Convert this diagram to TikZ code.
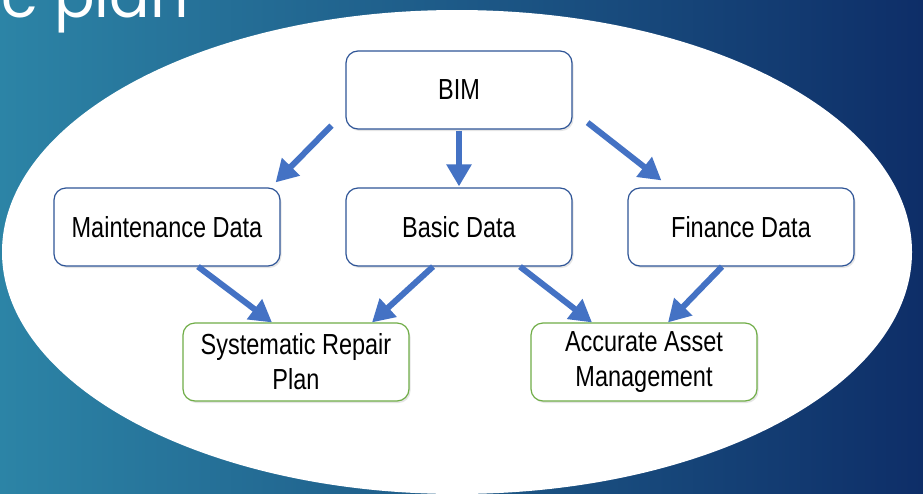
\documentclass[tikz,border=0pt]{standalone}
\usepackage{fontspec}
\setmainfont{Liberation Sans}
\newfontfamily\boxfont[FakeStretch=0.81]{Liberation Sans}
\newfontfamily\titlefont{Poppins}
\usepackage{tikz}
\usetikzlibrary{arrows.meta,shadows}
\definecolor{bgleft}{RGB}{44,132,166}
\definecolor{bgright}{RGB}{14,46,104}
\definecolor{boxline}{RGB}{47,85,151}
\definecolor{goalgreen}{RGB}{112,173,71}
\definecolor{arrowblue}{RGB}{68,114,196}

\begin{document}
\begin{tikzpicture}
	[
		x=1pt, y=-1pt,
		box/.style = {draw=boxline, line width=1.2pt, fill=white, rounded corners=12pt,
			minimum width=226pt, minimum height=78pt, align=center,
			font=\boxfont\fontsize{29}{35}\selectfont,
			drop shadow={opacity=0.2, shadow xshift=1.5pt, shadow yshift=-2pt}},
		goal/.style = {box, draw=goalgreen},
		link/.style = {draw=arrowblue, fill=arrowblue, line width=6pt, -{Triangle[length=22pt,width=24pt]}},
	]

  \useasboundingbox (0,0) rectangle (923,493);
  \fill[left color=bgleft, right color=bgright] (0,0) rectangle (923,493);
  \node[anchor=base east, text=white, font=\titlefont\fontsize{60}{60}\selectfont] (title) at (192,17) {c plan};
  \fill[white] (457,252) ellipse [x radius=455, y radius=242];

  % top and middle row
  \node[box] (BIM) at (459,90) {BIM};
  \node[box] (maint) at (167,227) {Maintenance Data};
  \node[box] (basic) at (459,227) {Basic Data};
  \node[box] (finance) at (741,227) {Finance Data};

  % results
  \node[goal] (repair) at (296,362) {Systematic Repair\\Plan};
  \node[goal] (asset) at (644,362) {Accurate Asset\\Management};

  \draw[link] ([xshift=-14pt,yshift=4pt]BIM.south west) -- ([xshift=-5pt,yshift=5pt]maint.north east);
  \draw[link] ([yshift=-1pt]BIM.south) -- ([yshift=1pt]basic.north);
  \draw[link] ([xshift=15pt,yshift=7pt]BIM.south east) -- ([xshift=34pt,yshift=7pt]finance.north west);
  \draw[link] ([xshift=31pt]maint.south) -- ([xshift=-24pt]repair.north);
  \draw[link] ([xshift=-26pt]basic.south) -- ([xshift=76pt]repair.north);
  \draw[link] ([xshift=61pt]basic.south) -- ([xshift=-52pt]asset.north);
  \draw[link] ([xshift=-19pt]finance.south) -- ([xshift=24pt]asset.north);

\end{tikzpicture}
\end{document}
